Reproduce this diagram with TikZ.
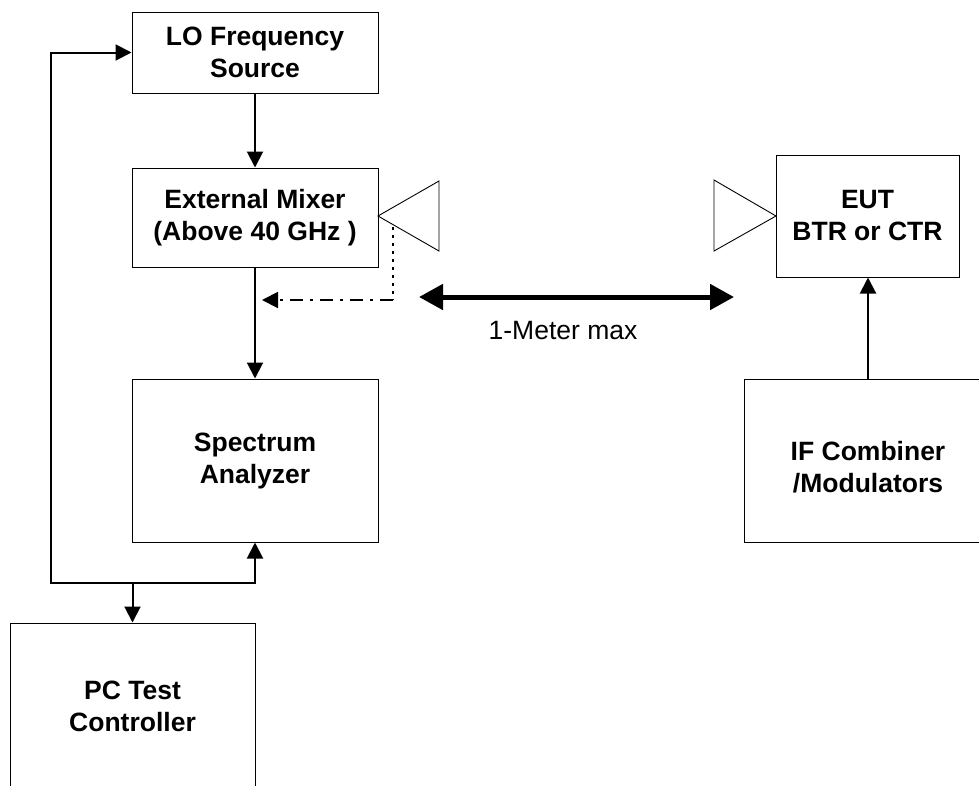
\documentclass[tikz,border=0pt]{standalone}
\usepackage{fontspec}
\setmainfont{Liberation Sans}
\usetikzlibrary{arrows.meta}
\begin{document}
\begin{tikzpicture}[x=1pt,y=-1pt,
  box/.style={draw=black,line width=1pt,inner sep=0pt,align=center,
    font=\fontsize{26.5}{32}\selectfont\bfseries},
  boxtext/.style={inner sep=0pt,align=center,font=\fontsize{26.5}{32}\selectfont\bfseries},
  conn/.style={line width=2pt,-{Triangle[length=16pt,width=16pt]}},
  horn/.style={draw=black,line width=0.9pt,line join=miter},
  lbl/.style={inner sep=0pt,font=\fontsize{26.5}{32}\selectfont}
]
\useasboundingbox (0,0) rectangle (979,785);
% boxes
\node[box,minimum width=246pt,minimum height=81pt] (lo) at (255,52.5) {LO Frequency\\Source};
\node[box,minimum width=246pt,minimum height=99pt] (mix) at (255,217.5) {External Mixer\\(Above 40 GHz )};
\node[box,minimum width=246pt,minimum height=163pt] (sa) at (255,460.5) {Spectrum\\Analyzer};
\node[box,minimum width=245pt,minimum height=166pt] (pc) at (132.5,706) {PC Test\\Controller};
\node[box,minimum width=183pt,minimum height=122pt] (eut) at (867.5,216) {EUT\\BTR or CTR};
\node[box,minimum width=248pt,minimum height=163pt] (ifc) at (868,460.5) {};
\node[boxtext] (ifctext) at (868,467) {IF Combiner\\/Modulators};
% horns
\coordinate (hla) at (378,216);
\coordinate (hlt) at (439,181);
\coordinate (hlb) at (439,251);
\draw[horn] (hla) -- (hlt) -- (hlb) -- cycle;
\coordinate (hra) at (776,216);
\coordinate (hrt) at (714,180);
\coordinate (hrb) at (714,251);
\draw[horn] (hra) -- (hrt) -- (hrb) -- cycle;
% main connectors
\draw[conn] (lo.south) -- (mix.north);
\draw[conn] (mix.south) -- (sa.north);
\draw[conn] (ifc.north) -- (eut.south -| ifc.north);
% control loop
\coordinate (bl) at (51,583);
\coordinate (jn) at (132.5,583);
\draw[line width=2pt,line join=miter,
  {Triangle[length=16pt,width=16pt]}-{Triangle[length=16pt,width=16pt]}]
  (lo.west) -| (bl) -| (sa.south);
\draw[conn] (jn) -- (pc.north);
% dotted / dash-dot return path
\coordinate (dtop) at (393,227);
\coordinate (dcorner) at (393,300);
\coordinate (dend) at (262,300);
\draw[line width=2pt,dash pattern=on 3pt off 5pt] (dtop) -- (dcorner);
\draw[line width=2pt,dash pattern=on 13pt off 7pt on 3pt off 7pt,
  -{Triangle[length=16pt,width=16pt]}] (dcorner) -- (dend);
% distance arrow
\coordinate (dl) at (419,297);
\coordinate (dr) at (734,297);
\draw[line width=5pt,{Triangle[length=24pt,width=25pt]}-{Triangle[length=24pt,width=25pt]}] (dl) -- (dr);
\node[lbl] (dist) at (563,331) {1-Meter max};
\end{tikzpicture}
\end{document}
